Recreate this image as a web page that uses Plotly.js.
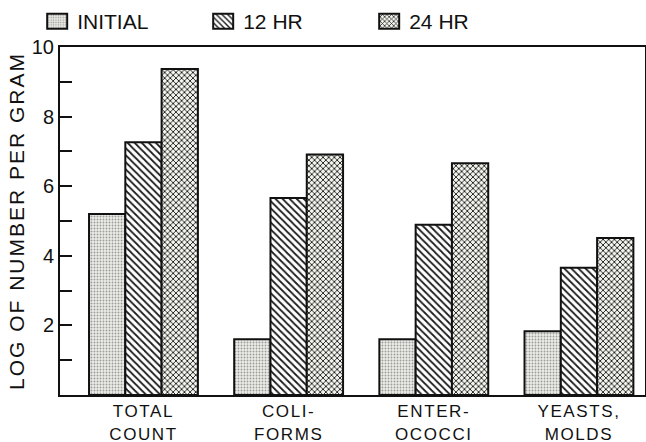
<!DOCTYPE html>
<html>
<head>
<meta charset="utf-8">
<script src="https://cdn.plot.ly/plotly-3.0.1.min.js"></script>
<style>html,body{margin:0;padding:0;background:#fff;}#chart{width:646px;height:442px;}
.ytitle{letter-spacing:2px;}
.xtick text{letter-spacing:1.6px;}</style>
</head>
<body>
<div id="chart"></div>
<script>
const categories = ["TOTAL<br>COUNT", "COLI-<br>FORMS", "ENTER-<br>OCOCCI", "YEASTS,<br>MOLDS"];
const seriesNames = ["INITIAL", "12 HR", "24 HR"];
const initialVals = [5.2, 1.6, 1.6, 1.83];
const hr12Vals = [7.26, 5.66, 4.89, 3.66];
const hr24Vals = [9.37, 6.91, 6.66, 4.51];
const yTickVals = [2, 4, 6, 8, 10];
const yTickText = ["2", "4", "6", "8", "10"];

const FONT = "Liberation Sans, Arial, sans-serif";

const traces = [
  {
    type: "bar", name: seriesNames[0], x: categories, y: initialVals,
    marker: { color: "#e6e6e2", line: { color: "#111", width: 2 },
      pattern: { shape: ".", fgcolor: "#9a9a96", bgcolor: "#ececE8", size: 3, solidity: 0.3 } }
  },
  {
    type: "bar", name: seriesNames[1], x: categories, y: hr12Vals,
    marker: { color: "#ffffff", line: { color: "#111", width: 2 },
      pattern: { shape: "\\", fgcolor: "#1a1a1a", bgcolor: "#ffffff", size: 5, solidity: 0.35 } }
  },
  {
    type: "bar", name: seriesNames[2], x: categories, y: hr24Vals,
    marker: { color: "#ffffff", line: { color: "#111", width: 2 },
      pattern: { shape: "x", fgcolor: "#1a1a1a", bgcolor: "#f4f4ee", size: 4, solidity: 0.4 } }
  }
];

const layout = {
  width: 646, height: 442,
  margin: { l: 60, r: 1, t: 45, b: 47 },
  paper_bgcolor: "#fff", plot_bgcolor: "#fff",
  font: { family: FONT, color: "#111", size: 20 },
  barmode: "group", bargap: 0.25, bargroupgap: 0,
  showlegend: true,
  legend: {
    orientation: "h", x: -0.039, y: 1.014, xanchor: "left", yanchor: "bottom",
    bgcolor: "rgba(0,0,0,0)",
    entrywidth: 121, entrywidthmode: "pixels",
    font: { family: FONT, size: 21, color: "#111" },
    itemwidth: 30, traceorder: "normal"
  },
  xaxis: {
    type: "category", range: [-0.575, 3.455],
    showline: true, linecolor: "#111", linewidth: 2, mirror: true,
    ticks: "", showgrid: false, zeroline: false,
    tickfont: { family: FONT, size: 17, color: "#111" }
  },
  yaxis: {
    range: [0, 10], tickvals: yTickVals, ticktext: yTickText,
    showline: true, linecolor: "#111", linewidth: 2, mirror: true,
    ticks: "inside", ticklen: 12, tickwidth: 2, tickcolor: "#111",
    minor: { dtick: 1, ticks: "inside", ticklen: 12, tickwidth: 2, tickcolor: "#111", showgrid: false },
    showgrid: false, zeroline: false,
    tickfont: { family: FONT, size: 20, color: "#111" },
    title: { text: "LOG OF NUMBER PER GRAM", font: { family: FONT, size: 21, color: "#111" }, standoff: 1 }
  }
};

Plotly.newPlot("chart", traces, layout, { displayModeBar: false, staticPlot: true }).then(function (gd) {
  // enlarge the legend swatches to match the reference's wider boxes
  gd.querySelectorAll(".legend .legendpoints path").forEach(function (p) {
    p.setAttribute("d", "M10,7.5H-10V-7.5H10Z");
  });
});
</script>
</body>
</html>
